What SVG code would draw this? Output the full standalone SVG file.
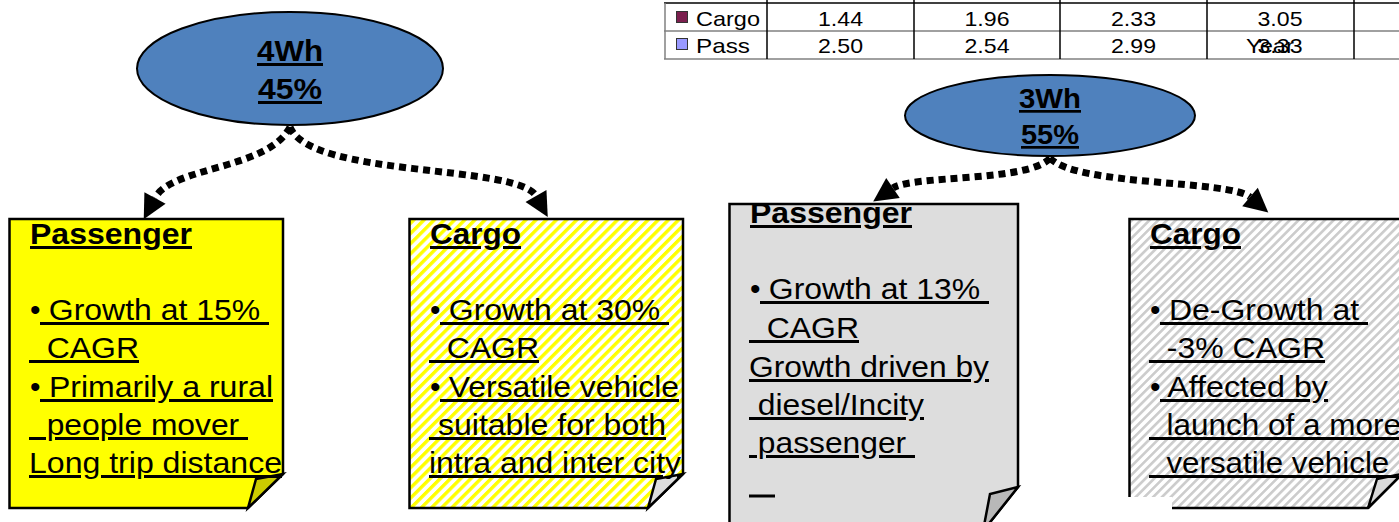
<svg xmlns="http://www.w3.org/2000/svg" width="1399" height="522" viewBox="0 0 1399 522">
  <style>
    .t { font-family: "Liberation Sans", Arial, sans-serif; fill: #000; white-space: pre; }
    .b { font-size: 30px; }
    .h { font-size: 30px; font-weight: bold; }
    .c { font-size: 21px; }
    .u { text-decoration: underline; text-decoration-thickness: 3px; text-underline-offset: 3px; }
    .box { stroke: #000; stroke-width: 2.5; stroke-linejoin: miter; }
    .fold { stroke: #000; stroke-width: 2.5; stroke-linejoin: miter; }
    .oval { fill: #4f81bd; stroke: #000; stroke-width: 2; }
    .conn { fill: none; stroke: #000; stroke-width: 7; stroke-dasharray: 7 5; }
    .grid { stroke: #000; stroke-width: 1.5; }
    .gridg { stroke: #808080; stroke-width: 1.5; }
    .ul { stroke: #000; stroke-width: 3; }
  </style>
  <defs>
    <pattern id="yellowStripes" width="7.2" height="7.2" patternUnits="userSpaceOnUse" patternTransform="rotate(45)">
      <rect width="7.2" height="7.2" fill="#ffffff"/>
      <rect width="3.4" height="7.2" fill="#ffff00"/>
    </pattern>
    <pattern id="greyStripes" width="6.2" height="6.2" patternUnits="userSpaceOnUse" patternTransform="rotate(45)">
      <rect width="6.2" height="6.2" fill="#ffffff"/>
      <rect width="2.6" height="6.2" fill="#cccccc"/>
    </pattern>
    <marker id="head" markerUnits="userSpaceOnUse" markerWidth="26" markerHeight="26" viewBox="0 -13 24 26" refX="0" refY="0" orient="auto">
      <path d="M0,-12 L24,0 L0,12 Z" fill="#000"/>
    </marker>
  </defs>

  <rect width="1399" height="522" fill="#ffffff"/>

  <!-- data table (partly cut at the top and right) -->
  <g id="table">
    <line class="grid" x1="664" y1="3" x2="1399" y2="3"/>
    <line class="gridg" x1="664" y1="31" x2="1399" y2="31"/>
    <line class="gridg" x1="664" y1="59" x2="1399" y2="59"/>
    <line class="gridg" x1="665" y1="3" x2="665" y2="59"/>
    <line class="grid" x1="767" y1="0" x2="767" y2="59"/>
    <line class="grid" x1="914" y1="0" x2="914" y2="59"/>
    <line class="grid" x1="1060" y1="0" x2="1060" y2="59"/>
    <line class="grid" x1="1207" y1="0" x2="1207" y2="59"/>
    <line class="grid" x1="1354" y1="0" x2="1354" y2="59"/>
    <rect x="676.5" y="11.5" width="11" height="11" fill="#7b1f4e" stroke="#333" stroke-width="1"/>
    <rect x="676.5" y="38.5" width="11" height="11" fill="#9999ff" stroke="#333" stroke-width="1"/>
    <text class="t c" x="696" y="26" textLength="64" lengthAdjust="spacingAndGlyphs">Cargo</text>
    <text class="t c" x="696" y="53" textLength="54" lengthAdjust="spacingAndGlyphs">Pass</text>
    <text class="t c" x="818" y="26" textLength="45" lengthAdjust="spacingAndGlyphs">1.44</text>
    <text class="t c" x="964.5" y="26" textLength="45" lengthAdjust="spacingAndGlyphs">1.96</text>
    <text class="t c" x="1111" y="26" textLength="45" lengthAdjust="spacingAndGlyphs">2.33</text>
    <text class="t c" x="1257.5" y="26" textLength="45" lengthAdjust="spacingAndGlyphs">3.05</text>
    <text class="t c" x="818" y="53" textLength="45" lengthAdjust="spacingAndGlyphs">2.50</text>
    <text class="t c" x="964.5" y="53" textLength="45" lengthAdjust="spacingAndGlyphs">2.54</text>
    <text class="t c" x="1111" y="53" textLength="45" lengthAdjust="spacingAndGlyphs">2.99</text>
    <text class="t c" x="1257.5" y="53" textLength="45" lengthAdjust="spacingAndGlyphs">3.33</text>
    <text class="t c" x="1246" y="53" textLength="48" lengthAdjust="spacingAndGlyphs">Year</text>
  </g>

  <!-- dotted connectors -->
  <g id="connectors">
    <path class="conn" d="M290,127 C268,170 172,166 155,198" marker-end="url(#head)"/>
    <path class="conn" d="M290,127 C310,178 518,164 536,196" marker-end="url(#head)"/>
    <path class="conn" d="M1050,158 C1030,182 912,175 893,188" marker-end="url(#head)"/>
    <path class="conn" d="M1050,158 C1075,186 1230,180 1250,197" marker-end="url(#head)"/>
  </g>

  <!-- 4Wh share -->
  <g id="node-4wh">
    <ellipse class="oval" cx="290" cy="68.5" rx="153" ry="56.5"/>
    <text class="t h u" x="257" y="61" textLength="66" lengthAdjust="spacingAndGlyphs">4Wh</text>
    <text class="t h u" x="258" y="99" textLength="64" lengthAdjust="spacingAndGlyphs">45%</text>
  </g>

  <!-- 3Wh share -->
  <g id="node-3wh">
    <ellipse class="oval" cx="1050" cy="115.5" rx="145" ry="40.5"/>
    <text class="t u" style="font-size:27px;font-weight:bold" x="1019" y="108" textLength="62" lengthAdjust="spacingAndGlyphs">3Wh</text>
    <text class="t u" style="font-size:27px;font-weight:bold" x="1021" y="144" textLength="58" lengthAdjust="spacingAndGlyphs">55%</text>
  </g>

  <!-- 4Wh passenger note -->
  <g id="node-4wh-passenger">
    <path class="box" d="M9.5,219 H283 V474 L248,508 H9.5 Z" fill="#ffff00"/>
    <path class="fold" d="M283,474 L256,479 L248,508 Z" fill="#cccc00"/>
    <text class="t h u" x="30" y="244" textLength="162" lengthAdjust="spacingAndGlyphs">Passenger</text>
    <text class="t b" x="30" y="320">•</text>
    <text class="t b u" x="40" y="320" textLength="229" lengthAdjust="spacingAndGlyphs"> Growth at 15% </text>
    <text class="t b u" x="29" y="358" textLength="110" lengthAdjust="spacingAndGlyphs">  CAGR</text>
    <text class="t b" x="30" y="397">•</text>
    <text class="t b u" x="40" y="397" textLength="233" lengthAdjust="spacingAndGlyphs"> Primarily a rural</text>
    <text class="t b u" x="29" y="435" textLength="219" lengthAdjust="spacingAndGlyphs">  people mover </text>
    <text class="t b u" x="29" y="473" textLength="253" lengthAdjust="spacingAndGlyphs">Long trip distance</text>
  </g>

  <!-- 4Wh cargo note -->
  <g id="node-4wh-cargo">
    <path class="box" d="M409.5,219 H683 V474 L648,508 H409.5 Z" fill="url(#yellowStripes)"/>
    <path class="fold" d="M683,474 L656,479 L648,508 Z" fill="#dddddd"/>
    <text class="t h u" x="430" y="244" textLength="91" lengthAdjust="spacingAndGlyphs">Cargo</text>
    <text class="t b" x="430" y="320">•</text>
    <text class="t b u" x="440" y="320" textLength="229" lengthAdjust="spacingAndGlyphs"> Growth at 30% </text>
    <text class="t b u" x="429" y="358" textLength="110" lengthAdjust="spacingAndGlyphs">  CAGR</text>
    <text class="t b" x="430" y="397">•</text>
    <text class="t b u" x="440" y="397" textLength="239" lengthAdjust="spacingAndGlyphs"> Versatile vehicle</text>
    <text class="t b u" x="429" y="435" textLength="237" lengthAdjust="spacingAndGlyphs"> suitable for both</text>
    <text class="t b u" x="429" y="473" textLength="252" lengthAdjust="spacingAndGlyphs">intra and inter city</text>
  </g>

  <!-- 3Wh passenger note -->
  <g id="node-3wh-passenger">
    <path class="box" d="M729.5,204 H1018 V487 L983,531 H729.5 Z" fill="#dddddd"/>
    <path class="fold" d="M1018,487 L990,494 L983,531 Z" fill="#b8b8b8"/>
    <text class="t h u" x="750" y="223" textLength="162" lengthAdjust="spacingAndGlyphs">Passenger</text>
    <text class="t b" x="750" y="299">•</text>
    <text class="t b u" x="760" y="299" textLength="229" lengthAdjust="spacingAndGlyphs"> Growth at 13% </text>
    <text class="t b u" x="749" y="338" textLength="110" lengthAdjust="spacingAndGlyphs">  CAGR</text>
    <text class="t b u" x="749" y="377" textLength="240" lengthAdjust="spacingAndGlyphs">Growth driven by</text>
    <text class="t b u" x="749" y="415" textLength="175" lengthAdjust="spacingAndGlyphs"> diesel/Incity</text>
    <text class="t b u" x="749" y="453" textLength="166" lengthAdjust="spacingAndGlyphs"> passenger </text>
    <line class="ul" x1="749" y1="496" x2="775" y2="496"/>
  </g>

  <!-- 3Wh cargo note -->
  <g id="node-3wh-cargo">
    <path class="box" d="M1129.5,219 H1402 V474 L1368,508 H1129.5 Z" fill="url(#greyStripes)"/>
    <path class="fold" d="M1402,474 L1377,479 L1368,508 Z" fill="#d9d9d9"/>
    <rect x="1124" y="497" width="48" height="25" fill="#ffffff"/>
    <text class="t h u" x="1150" y="244" textLength="91" lengthAdjust="spacingAndGlyphs">Cargo</text>
    <text class="t b" x="1150" y="320">•</text>
    <text class="t b u" x="1160" y="320" textLength="208" lengthAdjust="spacingAndGlyphs"> De-Growth at </text>
    <text class="t b u" x="1149" y="358" textLength="176" lengthAdjust="spacingAndGlyphs">  -3% CAGR</text>
    <text class="t b" x="1150" y="397">•</text>
    <text class="t b u" x="1160" y="397" textLength="168" lengthAdjust="spacingAndGlyphs"> Affected by</text>
    <text class="t b u" x="1149" y="435" textLength="252" lengthAdjust="spacingAndGlyphs">  launch of a more</text>
    <text class="t b u" x="1149" y="473" textLength="249" lengthAdjust="spacingAndGlyphs">  versatile vehicle </text>
  </g>
</svg>
